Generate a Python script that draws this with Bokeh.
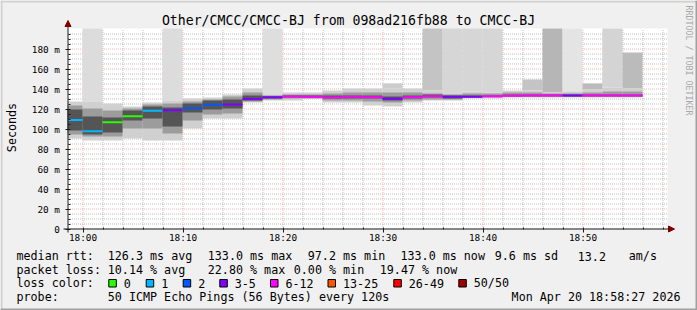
import math
from bokeh.plotting import figure
from bokeh.models import (Range1d, FixedTicker, LinearAxis, Arrow, NormalHead,
                          ColumnDataSource)
from bokeh.core.properties import value
from bokeh.embed import file_html
from bokeh.resources import INLINE

# ---------------- data ----------------
# end of each 2-minute step, minutes after 18:00
col_end_min = [0, 2, 4, 6, 8, 10, 12, 14, 16, 18, 20, 22, 24, 26, 28,
               30, 32, 34, 36, 38, 40, 42, 44, 46, 48, 50, 52, 54, 56]
median_ms = [108.5, 97.2, 106.3, 112.3, 117.7, 118.2, 120.2, 123.7, 124.0, 129.5,
             131.2, 132.0, 131.7, 131.0, 131.7, 131.3, 129.7, 131.3, 132.3, 131.7,
             131.7, 132.2, 132.7, 133.0, 133.0, 133.0, 133.0, 133.0, 133.0]
loss_bucket = [1, 1, 0, 0, 1, 3, 2, 2, 3, 3,
               3, 4, 4, 4, 4, 4, 3, 4, 4, 3,
               3, 4, 4, 4, 4, 3, 4, 4, 4]
smoke_lo = [90, 88, 88, 90, 88, 88, 100, 110, 110, 126,
            128, 128, 130, 126, 126, 123, 122, 126, 128, 128,
            130, 130, 131, 131, 131, 131, 131, 131, 131]
smoke_mlo = [94, 92, 92, 100, 100, 95, 108, 114, 115, 127,
             129, 130, 130, 128, 128, 127, 126, 128, 129, 129,
             131, 131, 132, 132, 132, 132, 132, 132, 132]
smoke_clo = [98, 94, 96, 108, 110, 102, 116, 119, 120, 128,
             130, 131, 131, 130, 130, 130, 128, 130, 131, 130,
             131, 132, 132, 132, 132, 132, 132, 132, 132]
smoke_chi = [119, 112, 111, 118, 122, 121, 125, 128, 129, 133,
             132, 133, 133, 133, 133, 133, 132, 133, 134, 133,
             133, 133, 134, 134, 134, 134, 134, 134, 134]
smoke_mhi = [123, 120, 118, 120, 124, 125, 127, 129, 132, 136,
             133, 134, 134, 135, 136, 136, 136, 136, 135, 134,
             135, 135, 136, 136, 135, 135, 136, 137, 137]
smoke_hi = [127, 127, 125, 122, 126, 128, 130, 131, 134, 140,
            134, 136, 136, 138, 140, 140, 140, 140, 138, 135,
            137, 136, 138, 138, 136, 137, 139, 141, 140]
# outlier band (highest ping / lost pings) per step, 0 = none
outlier_top = [0, 200, 0, 0, 0, 200, 0, 0, 0, 0,
               200, 0, 0, 0, 0, 0, 145, 0, 200, 200,
               200, 200, 0, 149, 200, 200, 145, 200, 176]
outlier_shade = ["#ffffff", "#dcdcdc", "#ffffff", "#ffffff", "#ffffff", "#dcdcdc", "#ffffff", "#ffffff", "#ffffff", "#ffffff",
                 "#dedede", "#ffffff", "#ffffff", "#ffffff", "#ffffff", "#ffffff", "#cccccc", "#ffffff", "#c4c4c4", "#d6d6d6",
                 "#d6d6d6", "#d6d6d6", "#ffffff", "#c4c4c4", "#b6b6b6", "#e4e4e4", "#bbbbbb", "#d4d4d4", "#bbbbbb"]

loss_colors = ["#26ff00", "#00b8ff", "#0059ff", "#7e00ff", "#ff00ff", "#ff5500", "#ff0000", "#a10000"]
loss_labels = ["0", "1", "2", "3-5", "6-12", "13-25", "26-49", "50/50"]

x_tick_min = [0, 10, 20, 30, 40, 50]
x_tick_labels = ["18:00", "18:10", "18:20", "18:30", "18:40", "18:50"]
x_minor_min = [2, 4, 6, 8, 12, 14, 16, 18, 22, 24, 26, 28, 32, 34, 36, 38,
               42, 44, 46, 48, 52, 54, 56, 58]
y_tick_ms = [0, 20, 40, 60, 80, 100, 120, 140, 160, 180]
y_tick_labels = ["0", "20 m", "40 m", "60 m", "80 m", "100 m", "120 m", "140 m", "160 m", "180 m"]
y_minor_ms = [v for v in range(5, 200, 5) if v % 20 != 0]

title_text = "Other/CMCC/CMCC-BJ from 098ad216fb88 to CMCC-BJ"
rtt_texts = ["median rtt:", "126.3 ms avg", "133.0 ms max", "97.2 ms min",
             "133.0 ms now", "9.6 ms sd", "13.2", "am/s"]
loss_texts = ["packet loss:", "10.14 % avg", "22.80 % max", "0.00 % min", "19.47 % now"]
probe_text = "50 ICMP Echo Pings (56 Bytes) every 120s"
stamp_text = "Mon Apr 20 18:58:27 2026"

# ---------------- layout constants (pixels) ----------------
MONO = "DejaVu Sans Mono"
X0, X1 = -1.5, 58.5        # plot area, minutes after 18:00
Y0, Y1 = 0, 200            # plot area, ms
rtt_x = [16, 107.3, 207.3, 307.3, 400, 494.3, 577.3, 628.3]
loss_x = [16, 107.3, 207.3, 293.3, 379.3]
box_x = [108.3, 145.7, 182.7, 219.3, 270, 327.5, 393.3, 458.3]
TY = -4   # text baseline correction

p = figure(width=697, height=310, x_range=Range1d(-8.2, 61.5), y_range=Range1d(-82, 228),
           min_border=0, min_border_left=0, min_border_right=0, min_border_top=0,
           min_border_bottom=0, output_backend="svg", toolbar_location=None,
           x_axis_location=None, y_axis_location=None,
           background_fill_color="#f0f0f0", border_fill_color="#f0f0f0",
           outline_line_color=None)
p.xgrid.visible = False
p.ygrid.visible = False
# half-pixel shifted ranges for crisp 1px lines, and a pixel range for decorations
p.extra_x_ranges = {"gx": Range1d(-8.25, 61.45), "px": Range1d(0, 697)}
p.extra_y_ranges = {"gy": Range1d(-81.5, 228.5), "px": Range1d(310, 0)}

# canvas border shading
p.quad(left=[0, 0, 0, 695], right=[697, 2, 697, 697], top=[0, 0, 308, 0], bottom=[2, 310, 310, 310],
       fill_color=["#d0d0d0", "#d0d0d0", "#a0a0a0", "#a0a0a0"], line_color=None,
       x_range_name="px", y_range_name="px")

# white plot canvas
p.quad(left=[X0], right=[X1], bottom=[Y0], top=[Y1], fill_color="white", line_color=None)

# grid
p.segment(x0=x_minor_min, x1=x_minor_min, y0=[Y0] * len(x_minor_min), y1=[Y1] * len(x_minor_min),
          line_color=(128, 128, 128), line_alpha=0.5, line_width=1, line_dash="1 1",
          x_range_name="gx", y_range_name="gy")
p.segment(x0=[X0] * len(y_minor_ms), x1=[X1] * len(y_minor_ms), y0=y_minor_ms, y1=y_minor_ms,
          line_color=(128, 128, 128), line_alpha=0.5, line_width=1, line_dash="1 1",
          x_range_name="gx", y_range_name="gy")
p.segment(x0=x_tick_min, x1=x_tick_min, y0=[Y0] * len(x_tick_min), y1=[Y1] * len(x_tick_min),
          line_color=(245, 128, 128), line_alpha=0.6, line_width=1, line_dash="1 1",
          x_range_name="gx", y_range_name="gy")
p.segment(x0=[X0] * 9, x1=[X1] * 9, y0=y_tick_ms[1:], y1=y_tick_ms[1:],
          line_color=(245, 128, 128), line_alpha=0.6, line_width=1, line_dash="1 1",
          x_range_name="gx", y_range_name="gy")

# smoke + median
src = ColumnDataSource(dict(
    left=[max(t - 2, X0) for t in col_end_min], right=col_end_min, med=median_ms,
    lo=smoke_lo, mlo=smoke_mlo, clo=smoke_clo, chi=smoke_chi, mhi=smoke_mhi, hi=smoke_hi,
    top=[t if t > 0 else h for t, h in zip(outlier_top, smoke_hi)],
    shade=outlier_shade,
    mcolor=[loss_colors[b] for b in loss_bucket],
))
p.quad(left="left", right="right", bottom="hi", top="top", fill_color="shade",
       line_color=None, source=src)
p.quad(left="left", right="right", bottom="lo", top="hi", fill_color="#d0d0d0",
       line_color=None, source=src)
p.quad(left="left", right="right", bottom="mlo", top="mhi", fill_color="#9c9c9c",
       line_color=None, source=src)
p.quad(left="left", right="right", bottom="clo", top="chi", fill_color="#555555",
       line_color=None, source=src)
p.segment(x0="left", x1="right", y0="med", y1="med", line_color="mcolor",
          line_width=2, source=src)

# axes (bokeh axes pinned at the plot origin)
xaxis = LinearAxis(fixed_location=0, x_range_name="gx", y_range_name="gy",
                   ticker=FixedTicker(ticks=x_tick_min, minor_ticks=x_minor_min),
                   major_label_overrides={t: l for t, l in zip(x_tick_min, x_tick_labels)},
                   bounds=(X0, X1))
yaxis = LinearAxis(fixed_location=X0, x_range_name="gx", y_range_name="gy",
                   ticker=FixedTicker(ticks=y_tick_ms, minor_ticks=y_minor_ms),
                   major_label_overrides={t: l for t, l in zip(y_tick_ms, y_tick_labels)},
                   bounds=(Y0, Y1))
for ax in (xaxis, yaxis):
    ax.axis_line_color = None
    ax.major_tick_line_color = "#1a1a1a"
    ax.minor_tick_line_color = "#1a1a1a"
    ax.major_label_text_font = MONO
    ax.major_label_text_font_size = "9.4px"
    ax.major_label_text_color = "black"
    ax.major_tick_in = 2
    ax.major_tick_out = 3
    ax.minor_tick_in = 2
    ax.minor_tick_out = 0
xaxis.major_label_standoff = 0
yaxis.major_label_standoff = 5
p.add_layout(xaxis, "below")
p.add_layout(yaxis, "left")

p.add_layout(Arrow(end=NormalHead(size=6, fill_color="#800000", line_color="#800000"),
                   x_start=67.5, y_start=232, x_end=67.5, y_end=20,
                   x_range_name="px", y_range_name="px", line_color="#1a1a1a"))
p.add_layout(Arrow(end=NormalHead(size=6, fill_color="#800000", line_color="#800000"),
                   x_start=63, y_start=228.5, x_end=674, y_end=228.5,
                   x_range_name="px", y_range_name="px", line_color="#1a1a1a"))

# texts
def txt(xs, ys, texts, size="11.7px", align="left", baseline="alphabetic",
        angle=0.0, color="black"):
    dy = TY if baseline == "alphabetic" else 0
    p.text(x=xs, y=[y + dy for y in ys], text=texts, x_range_name="px", y_range_name="px",
           text_font=value(MONO), text_font_size=size, text_align=align,
           text_baseline=baseline, angle=angle, text_color=color)

txt([348], [24], [title_text], size="13.2px", align="center")
txt([11], [127], ["Seconds"], align="center", baseline="middle", angle=math.pi / 2)
txt([688], [60], ["RRDTOOL / TOBI OETIKER"], size="8.3px", align="center",
    baseline="middle", angle=-math.pi / 2, color="#a8a8a8")
txt(rtt_x, [259.5] * len(rtt_x), rtt_texts)
txt(loss_x, [273] * len(loss_x), loss_texts)
txt([16], [286.5], ["loss color:"])
p.quad(left=box_x, right=[x + 7.5 for x in box_x], top=[279] * 8, bottom=[286.5] * 8,
       fill_color=loss_colors, line_color="black", line_width=1,
       x_range_name="px", y_range_name="px")
txt([x + 15 for x in box_x], [286.5] * 8, loss_labels)
txt([16, 107.3], [300, 300], ["probe:", probe_text])
txt([680], [300], [stamp_text], align="right")

open("out.html", "w").write(file_html(p, INLINE))
